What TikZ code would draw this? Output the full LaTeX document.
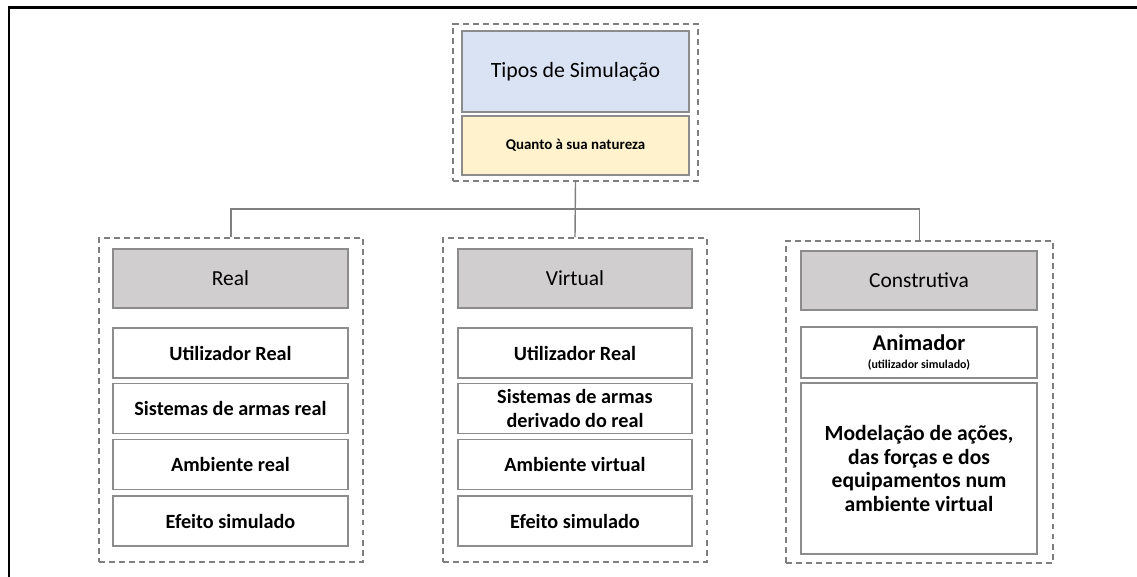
\documentclass[tikz,border=0pt]{standalone}
\usepackage{fontspec}
\setmainfont{Carlito}
\usepackage{tikz}
\usetikzlibrary{positioning, backgrounds}
\definecolor{boxline}{HTML}{8C8C8C}
\definecolor{dashline}{HTML}{7F7F7F}
\definecolor{titleblue}{HTML}{DAE3F3}
\definecolor{natyellow}{HTML}{FFF2CC}
\definecolor{headgray}{HTML}{D0CECE}
\tikzstyle{group}=[draw=dashline,line width=0.8pt,dash pattern=on 3.4pt off 2.3pt,inner sep=0pt]
\tikzstyle{plainbox}=[draw=boxline,line width=0.8pt,inner sep=0pt,align=center,minimum width=4.7cm]
\tikzstyle{headbox}=[plainbox,fill=headgray,minimum height=1.18cm,font=\fontsize{12.2}{14}\selectfont]
\tikzstyle{itembox}=[plainbox,fill=white,minimum height=1.0cm,font=\fontsize{11.5}{13.6}\selectfont\bfseries]
\tikzstyle{linkedge}=[draw=dashline,line width=0.8pt]

\begin{document}
\begin{tikzpicture}[x=0.02cm,y=-0.02cm]
\useasboundingbox (0,0) rectangle (1137,577);
%\draw[step=50,gray,very thin] (0,0) grid (1137,577);
\draw[line width=1.7pt] (9,577) -- (9,7.5) -- (1137,7.5);

\node[group,minimum width=4.9cm,minimum height=3.14cm] (top) at (575.5,102.5){};
\node[plainbox,fill=titleblue,minimum width=4.54cm,minimum height=1.62cm,font=\fontsize{12.4}{15}\selectfont] (tipos) at (575.5,71.5){Tipos de Simulação};
\node[plainbox,fill=natyellow,minimum width=4.54cm,minimum height=1.18cm,font=\fontsize{8.5}{10}\selectfont\bfseries] (natureza) at (575.5,145.5){Quanto à sua natureza};

\node[group,minimum width=5.28cm,minimum height=6.48cm] (real) at (231,400){};
\node[headbox] (realh) at (230.5,278.5){Real};
\node[itembox] (real1) at (230.5,353){Utilizador Real};
\node[itembox] (real2) at (230.5,408.5){Sistemas de armas real};
\node[itembox] (real3) at (230.5,464.5){Ambiente real};
\node[itembox] (real4) at (230.5,521){Efeito simulado};

\node[group,minimum width=5.28cm,minimum height=6.48cm] (virt) at (575,400){};
\node[headbox,minimum width=4.68cm] (virth) at (575,278.5){Virtual};
\node[itembox,minimum width=4.68cm] (virt1) at (575,353){Utilizador Real};
\node[itembox,minimum width=4.68cm] (virt2) at (575,408.5){Sistemas de armas\\derivado do real};
\node[itembox,minimum width=4.68cm] (virt3) at (575,464.5){Ambiente virtual};
\node[itembox,minimum width=4.68cm] (virt4) at (575,521){Efeito simulado};

\node[group,minimum width=5.34cm,minimum height=6.44cm] (constr) at (919.5,402){};
\node[headbox,minimum width=4.72cm] (constrh) at (919,280.5){Construtiva};
\node[itembox,minimum width=4.72cm,minimum height=1.02cm,font=\fontsize{12.8}{14}\selectfont\bfseries] (constr1) at (919,352.5){Animador\\[-4pt]{\fontsize{6.8}{7}\selectfont (utilizador simulado)}};
\node[itembox,minimum width=4.72cm,minimum height=3.42cm,font=\fontsize{12.3}{13.6}\selectfont\bfseries] (constr2) at (919,468.5){Modelação de ações,\\das forças e dos\\equipamentos num\\ambiente virtual};

\coordinate (split) at (575.5,209);
\draw[linkedge] (top.south) -- (virt.north);
\draw[linkedge] (real.north) -- (real.north |- split) -- (constr.north |- split) -- (constr.north);

\end{tikzpicture}
\end{document}
